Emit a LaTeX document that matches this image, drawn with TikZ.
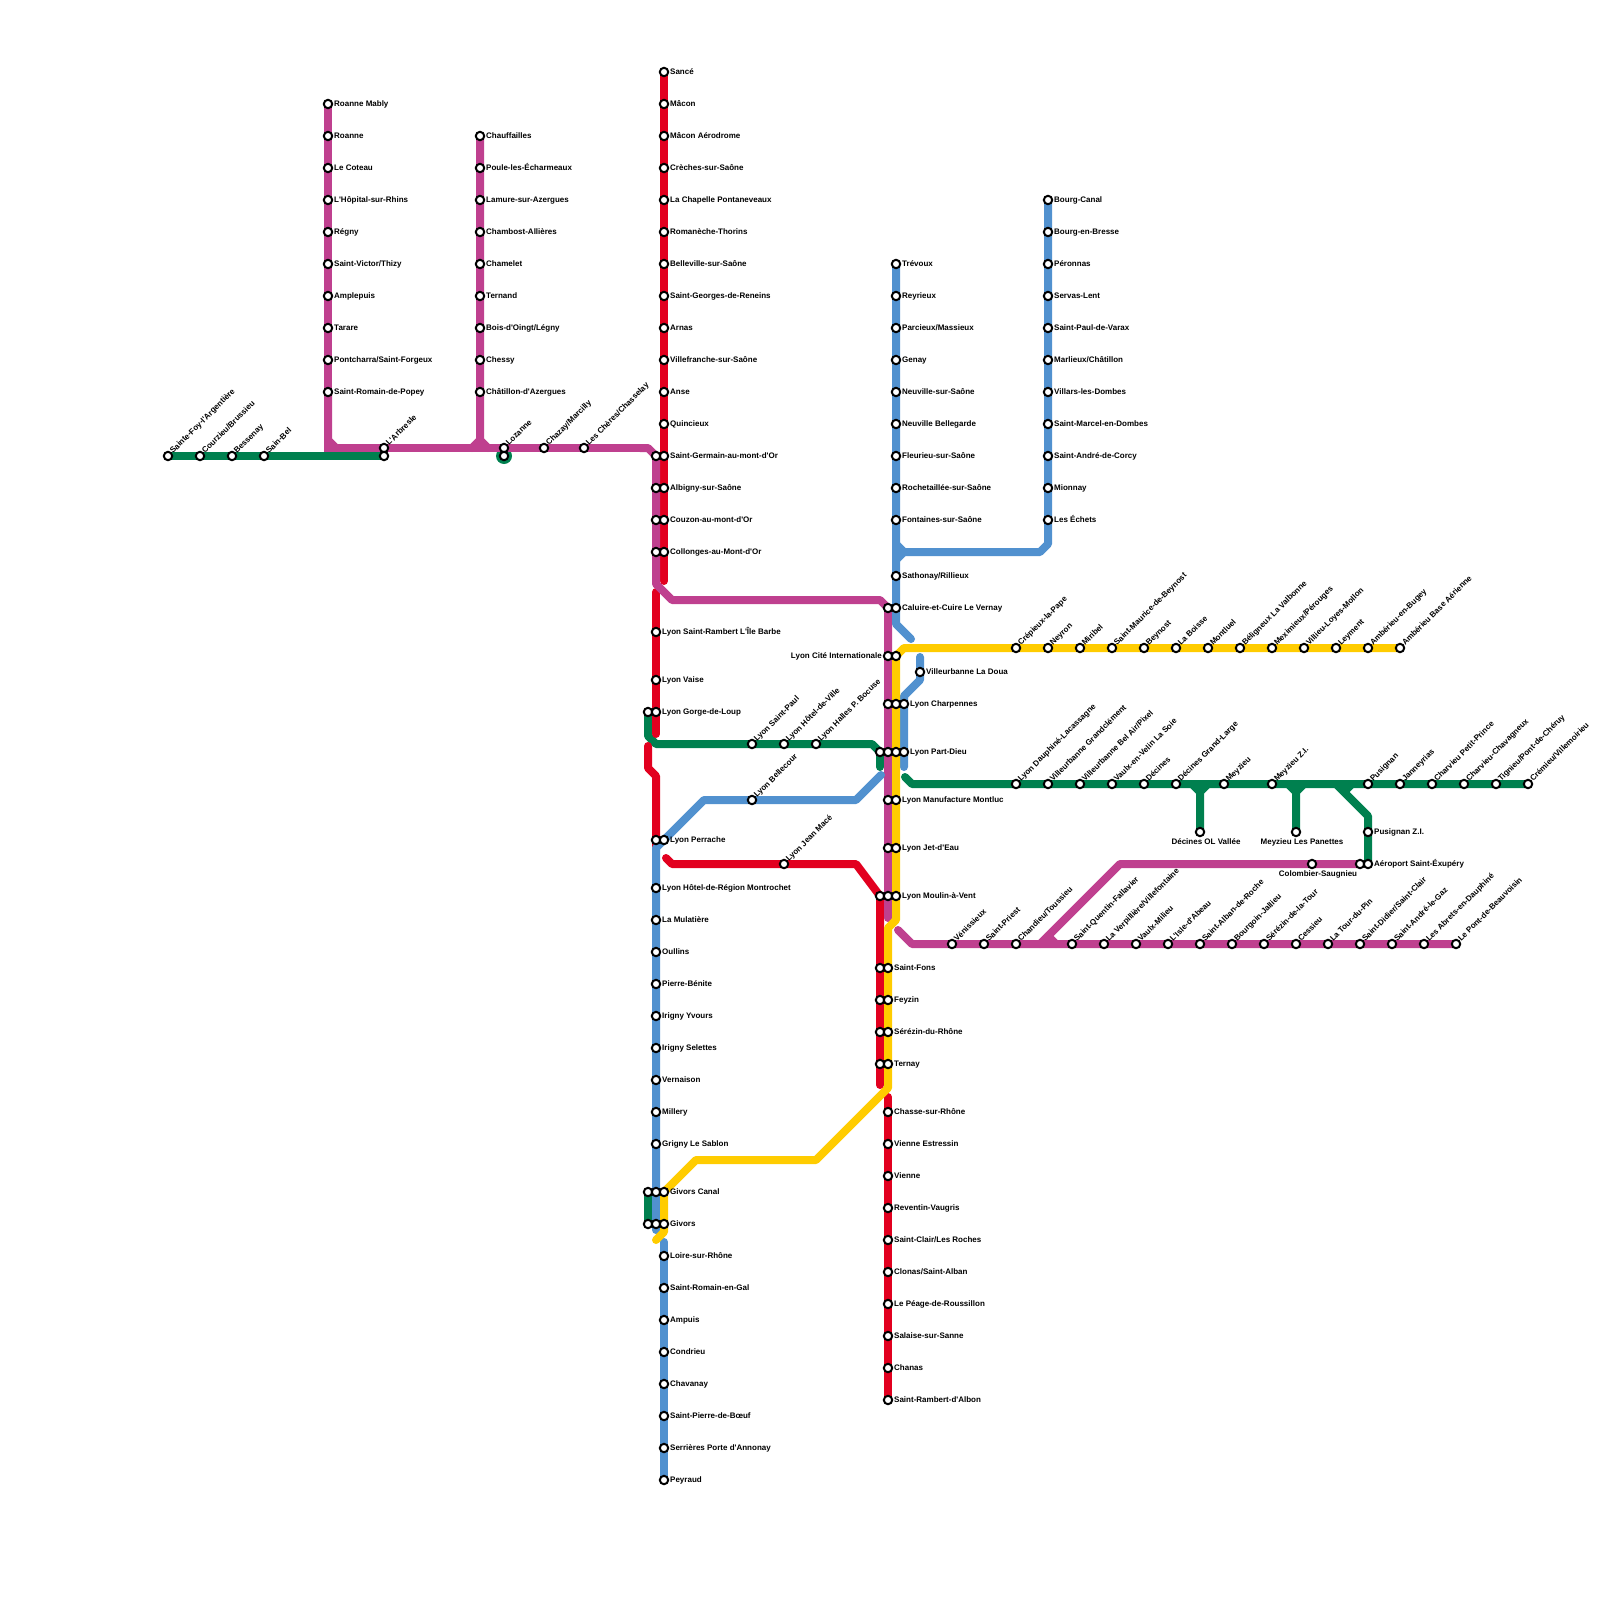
\documentclass[tikz,border=0pt]{standalone}
\usepackage{fontspec}
\newfontfamily\stfont{Liberation Sans}
\usetikzlibrary{backgrounds}
\definecolor{mag}{HTML}{BF408F}
\definecolor{rou}{HTML}{E2001F}
\definecolor{ble}{HTML}{5191CF}
\definecolor{ver}{HTML}{00804F}
\definecolor{jau}{HTML}{FFCC00}
\tikzset{every node/.style={font=\stfont\fontsize{8}{9}\selectfont\bfseries},
station/.style={circle,draw=black,fill=white,line width=2pt,inner sep=0pt,minimum size=8.4pt},
labr/.style={anchor=base west,inner sep=0pt,xshift=6pt,yshift=-2.8pt},
labl/.style={anchor=base east,inner sep=0pt,xshift=-6pt,yshift=-2.8pt},
labb/.style={anchor=base,inner sep=0pt,xshift=6pt,yshift=-12.3pt},
labu/.style={anchor=base west,inner sep=0pt,rotate=45,xshift=5pt,yshift=-2.2pt},
lig/.style={line width=8pt,line cap=round,line join=round}}
\newcommand{\st}[3]{\node[station] (#1) at (#2,#3) {};}
\newcommand{\stR}[4]{\st{#1}{#2}{#3}\node[labr] (#1t) at (#1.center) {#4};}
\newcommand{\stU}[4]{\st{#1}{#2}{#3}\node[labu] (#1t) at (#1.center) {#4};}
\newcommand{\stB}[4]{\st{#1}{#2}{#3}\node[labb] (#1t) at (#1.center) {#4};}
\begin{document}
\begin{tikzpicture}[x=1pt,y=-1pt]
\useasboundingbox (0,0) rectangle (1600,1600);
% ouest
\foreach \txt [count=\i] in {Sainte-Foy-l'Argentière,Courzieu/Brussieu,Bessenay,Sain-Bel} {\stU{ou\i}{136+32*\i}{456}{\txt}}
\stU{arbM}{384}{448}{L'Arbresle}\st{arbV}{384}{456}
\stU{lozM}{504}{448}{Lozanne}\st{lozV}{504}{456}
\stU{chaz}{544}{448}{Chazay/Marcilly}\stU{cher}{584}{448}{Les Chères/Chasselay}
\foreach \txt [count=\i] in {Roanne Mably,Roanne,Le Coteau,L'Hôpital-sur-Rhins,Régny,Saint-Victor/Thizy,Amplepuis,Tarare,Pontcharra/Saint-Forgeux,Saint-Romain-de-Popey} {\stR{ro\i}{328}{72+32*\i}{\txt}}
\foreach \txt [count=\i] in {Chauffailles,Poule-les-Écharmeaux,Lamure-sur-Azergues,Chambost-Allières,Chamelet,Ternand,Bois-d'Oingt/Légny,Chessy,Châtillon-d'Azergues} {\stR{ch\i}{480}{104+32*\i}{\txt}}
% nord
\foreach \txt [count=\i] in {Sancé,Mâcon,Mâcon Aérodrome,Crèches-sur-Saône,La Chapelle Pontaneveaux,Romanèche-Thorins,Belleville-sur-Saône,Saint-Georges-de-Reneins,Arnas,Villefranche-sur-Saône,Anse,Quincieux,Saint-Germain-au-mont-d'Or,Albigny-sur-Saône,Couzon-au-mont-d'Or,Collonges-au-Mont-d'Or} {\stR{ma\i}{664}{40+32*\i}{\txt}}
\foreach \i in {1,...,4} {\st{mg\i}{656}{424+32*\i}}
\foreach \txt [count=\i] in {Bourg-Canal,Bourg-en-Bresse,Péronnas,Servas-Lent,Saint-Paul-de-Varax,Marlieux/Châtillon,Villars-les-Dombes,Saint-Marcel-en-Dombes,Saint-André-de-Corcy,Mionnay,Les Échets} {\stR{bo\i}{1048}{168+32*\i}{\txt}}
\foreach \txt [count=\i] in {Trévoux,Reyrieux,Parcieux/Massieux,Genay,Neuville-sur-Saône,Neuville Bellegarde,Fleurieu-sur-Saône,Rochetaillée-sur-Saône,Fontaines-sur-Saône} {\stR{tr\i}{896}{232+32*\i}{\txt}}
\stR{sath}{896}{576}{Sathonay/Rillieux}
% centre
\st{calM}{888}{608}\stR{calB}{896}{608}{Caluire-et-Cuire Le Vernay}
\stR{stram}{656}{632}{Lyon Saint-Rambert L'Île Barbe}\stR{vaise}{656}{680}{Lyon Vaise}
\st{glV}{648}{712}\stR{glR}{656}{712}{Lyon Gorge-de-Loup}
\stU{spaul}{752}{744}{Lyon Saint-Paul}\stU{hdv}{784}{744}{Lyon Hôtel-de-Ville}\stU{halles}{816}{744}{Lyon Halles P. Bocuse}
\stU{bell}{752}{800}{Lyon Bellecour}\stU{jmace}{784}{864}{Lyon Jean Macé}
\st{perR}{656}{840}\stR{perB}{664}{840}{Lyon Perrache}
\st{citeM}{888}{656}\node[labl] (citeMt) at (citeM.center) {Lyon Cité Internationale};\st{citeJ}{896}{656}
\stR{doua}{920}{672}{Villeurbanne La Doua}
\st{chaM}{888}{704}\st{chaJ}{896}{704}\stR{chaB}{904}{704}{Lyon Charpennes}
\st{pdV}{880}{752}\st{pdM}{888}{752}\st{pdJ}{896}{752}\stR{pdB}{904}{752}{Lyon Part-Dieu}
\st{monM}{888}{800}\stR{monJ}{896}{800}{Lyon Manufacture Montluc}
\st{jetM}{888}{848}\stR{jetJ}{896}{848}{Lyon Jet-d'Eau}
\st{mavR}{880}{896}\st{mavM}{888}{896}\stR{mavJ}{896}{896}{Lyon Moulin-à-Vent}
% sud
\foreach \txt [count=\i] in {Lyon Hôtel-de-Région Montrochet,La Mulatière,Oullins,Pierre-Bénite,Irigny Yvours,Irigny Selettes,Vernaison,Millery,Grigny Le Sablon} {\stR{ou\i s}{656}{856+32*\i}{\txt}}
\st{gcV}{648}{1192}\st{gcB}{656}{1192}\stR{gcJ}{664}{1192}{Givors Canal}
\st{gvV}{648}{1224}\st{gvB}{656}{1224}\stR{gvJ}{664}{1224}{Givors}
\foreach \txt [count=\i] in {Loire-sur-Rhône,Saint-Romain-en-Gal,Ampuis,Condrieu,Chavanay,Saint-Pierre-de-Bœuf,Serrières Porte d'Annonay,Peyraud} {\stR{lo\i}{664}{1224+32*\i}{\txt}}
\foreach \txt [count=\i] in {Saint-Fons,Feyzin,Sérézin-du-Rhône,Ternay} {\st{te\i}{880}{936+32*\i}\stR{tj\i}{888}{936+32*\i}{\txt}}
\foreach \txt [count=\i] in {Chasse-sur-Rhône,Vienne Estressin,Vienne,Reventin-Vaugris,Saint-Clair/Les Roches,Clonas/Saint-Alban,Le Péage-de-Roussillon,Salaise-sur-Sanne,Chanas,Saint-Rambert-d'Albon} {\stR{vi\i}{888}{1080+32*\i}{\txt}}
% est
\foreach \txt [count=\i] in {Crépieux-la-Pape,Neyron,Miribel,Saint-Maurice-de-Beynost,Beynost,La Boisse,Montluel,Béligneux La Valbonne,Meximieux/Pérouges,Villieu-Loyes-Mollon,Leyment,Ambérieu-en-Bugey,Ambérieu Base Aérienne} {\stU{am\i}{984+32*\i}{648}{\txt}}
\foreach \txt [count=\i] in {Lyon Dauphiné-Lacassagne,Villeurbanne Grandclément,Villeurbanne Bel Air/Pixel,Vaulx-en-Velin La Soie,Décines,Décines Grand-Large} {\stU{de\i}{984+32*\i}{784}{\txt}}
\stU{mey}{1224}{784}{Meyzieu}\stU{meyz}{1272}{784}{Meyzieu Z.I.}
\foreach \txt [count=\i] in {Pusignan,Janneyrias,Charvieu Petit-Prince,Charvieu-Chavagneux,Tignieu/Pont-de-Chéruy,Crémieu/Villemoirieu} {\stU{cr\i}{1336+32*\i}{784}{\txt}}
\stB{olv}{1200}{832}{Décines OL Vallée}\stB{pan}{1296}{832}{Meyzieu Les Panettes}
\stR{pzi}{1368}{832}{Pusignan Z.I.}
\stB{col}{1312}{864}{Colombier-Saugnieu}\st{aerM}{1360}{864}\stR{aerV}{1368}{864}{Aéroport Saint-Éxupéry}
\foreach \txt [count=\i] in {Vénissieux,Saint-Priest,Chandieu/Toussieu} {\stU{ve\i}{920+32*\i}{944}{\txt}}
\foreach \txt [count=\i] in {Saint-Quentin-Fallavier,La Verpillière/Villefontaine,Vaulx-Milieu,L'Isle-d'Abeau,Saint-Alban-de-Roche,Bourgoin-Jallieu,Sérézin-de-la-Tour,Cessieu,La Tour-du-Pin,Saint-Didier/Saint-Clair,Saint-André-le-Gaz,Les Abrets-en-Dauphiné,Le Pont-de-Beauvoisin} {\stU{qu\i}{1040+32*\i}{944}{\txt}}
\begin{pgfonlayer}{background}
\fill[ver] (lozV.center) circle(8);
% vert
\draw[lig,ver] (ou1.center)--(arbV.center);
\draw[lig,ver] (glV.center)--(648,736)--(656,744)--(872,744)--(pdV.center)--(880,767);
\draw[lig,ver] (gcV.center)--(gvV.center);
\draw[lig,ver] (905,777)--(912,784)--(cr6.center);
\draw[lig,ver] (1192,784)--(1200,792)--(1208,784) (1200,792)--(olv.center);
\draw[lig,ver] (1288,784)--(1296,792)--(1304,784) (1296,792)--(pan.center);
\draw[lig,ver] (1336,784)--(1368,816)--(aerV.center) (1352,784)--(1344,792);
% rouge
\draw[lig,rou] (ma1.center)--(664,581);
\draw[lig,rou] (656,592)--(656,734);
\draw[lig,rou] (648,746)--(648,768)--(656,776)--(656,846);
\draw[lig,rou] (666,858)--(672,864)--(856,864)--(mavR.center)--(880,1085);
\draw[lig,rou] (888,1097)--(vi10.center);
% magenta
\draw[lig,mag,line join=miter] (ro1.center)--(328,448)--(640,448);
\draw[lig,mag] (ro10.center)--(328,440)--(336,448);
\draw[lig,mag] (472,448)--(480,440)--(488,448) (ch1.center)--(480,444);
\draw[lig,mag] (640,448)--(648,448)--(mg1.center)--(656,584)--(672,600)--(880,600)--(calM.center)--(888,918);
\draw[lig,mag] (898,930)--(912,944)--(qu13.center);
\draw[lig,mag] (aerM.center)--(1120,864)--(1040,944);
\draw[lig,mag] (1048,936)--(1056,944);
% bleu
\draw[lig,ble] (tr1.center)--(896,624)--(911,639);
\draw[lig,ble] (bo1.center)--(1048,544)--(1040,552)--(904,552)--(896,544);
\draw[lig,ble] (904,552)--(896,560);
\draw[lig,ble] (920,657)--(920,680)--(904,696)--(904,767);
\draw[lig,ble] (881,775)--(856,800)--(704,800)--(656,848)--(656,1230);
\draw[lig,ble] (664,1242)--(lo8.center);
% jaune
\draw[lig,jau] (am13.center)--(904,648)--(896,656)--(896,920)--(888,928)--(888,1088)--(816,1160)--(696,1160)--(664,1192)--(664,1232)--(656,1240);
\end{pgfonlayer}
\end{tikzpicture}
\end{document}
